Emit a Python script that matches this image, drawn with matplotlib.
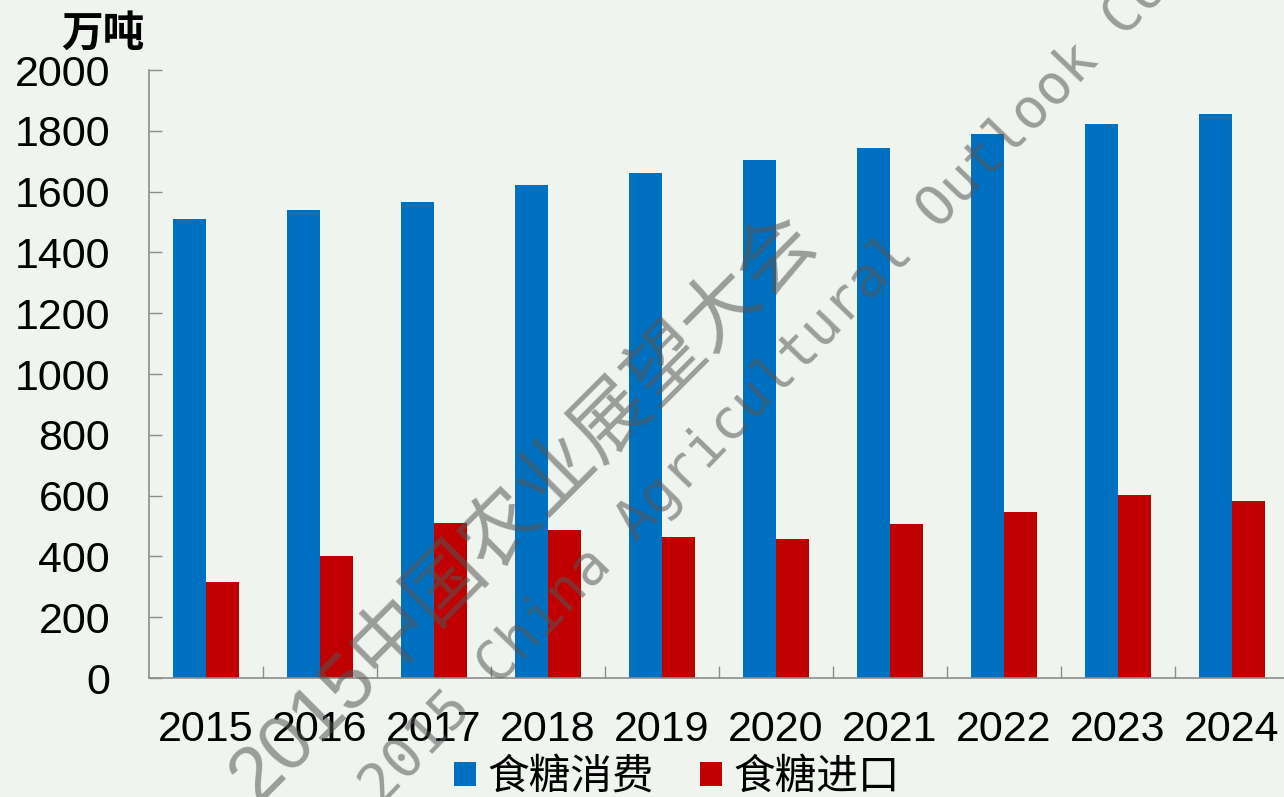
import matplotlib.pyplot as plt
import numpy as np

plt.rcParams['font.family'] = ['Liberation Sans', 'Noto Sans CJK SC', 'DejaVu Sans']

# Data (万吨)
years = ['2015', '2016', '2017', '2018', '2019', '2020', '2021', '2022', '2023', '2024']
consumption = [1510, 1538, 1566, 1621, 1661, 1704, 1742, 1788, 1822, 1854]
imports = [315, 401, 510, 487, 464, 457, 507, 546, 601, 582]
series_names = ['食糖消费', '食糖进口']

bg = '#EFF4EF'
blue = '#0070C0'
red = '#C00000'
axis_gray = '#8C8C8C'

fig = plt.figure(figsize=(12.84, 7.97), dpi=100, facecolor=bg)
ax = fig.add_axes([149 / 1284, 1 - 678 / 797, 1140 / 1284, 608 / 797])
ax.set_facecolor(bg)

x = np.arange(len(years))
w = 0.29
ax.bar(x - w / 2, consumption, w, color=blue, label=series_names[0], zorder=2)
ax.bar(x + w / 2, imports, w, color=red, label=series_names[1], zorder=2)

ax.set_xlim(-0.5, len(years) - 0.5)
ax.set_ylim(0, 2000)
ax.set_yticks(np.arange(0, 2001, 200))
ax.tick_params(axis='y', direction='in', length=9.5, width=1, color=axis_gray,
               labelsize=31, pad=28)

ax.set_xticks(x)
ax.set_xticklabels(years)
ax.set_xticks(x[:-1] + 0.5, minor=True)
ax.tick_params(axis='x', which='major', length=0, labelsize=31, pad=23)
ax.tick_params(axis='x', which='minor', direction='in', length=9, width=1, color=axis_gray)

for side in ['top', 'right']:
    ax.spines[side].set_visible(False)
for side in ['left', 'bottom']:
    ax.spines[side].set_color(axis_gray)
    ax.spines[side].set_linewidth(1.2)

fig.text(0.080, 0.958, '万吨', ha='center', va='center', fontsize=30,
         fontweight='bold', family=['Noto Sans CJK SC'])

ax.legend(loc='lower center', bbox_to_anchor=(677 / 1284, -0.027),
          bbox_transform=fig.transFigure, ncol=2, frameon=False,
          prop={'family': 'Noto Sans CJK SC', 'size': 30},
          handlelength=0.54, handleheight=0.54, handletextpad=0.27,
          columnspacing=1.1, borderpad=0)

# watermark
fig.text(243 / 1284, 1 - 790 / 797, '2015中国农业展望大会', rotation=45,
         rotation_mode='anchor', ha='left', va='center', fontsize=56,
         color='#555555', alpha=0.55, family=['Liberation Sans', 'Noto Sans CJK SC'],
         zorder=10)
fig.text(371 / 1284, 1 - 796 / 797, '2015 China Agricultural Outlook Conference',
         rotation=46, rotation_mode='anchor', ha='left', va='center', fontsize=40,
         color='#555555', alpha=0.55, family='DejaVu Sans Mono', zorder=10)

fig.savefig('out.png', dpi=100, facecolor=bg)
